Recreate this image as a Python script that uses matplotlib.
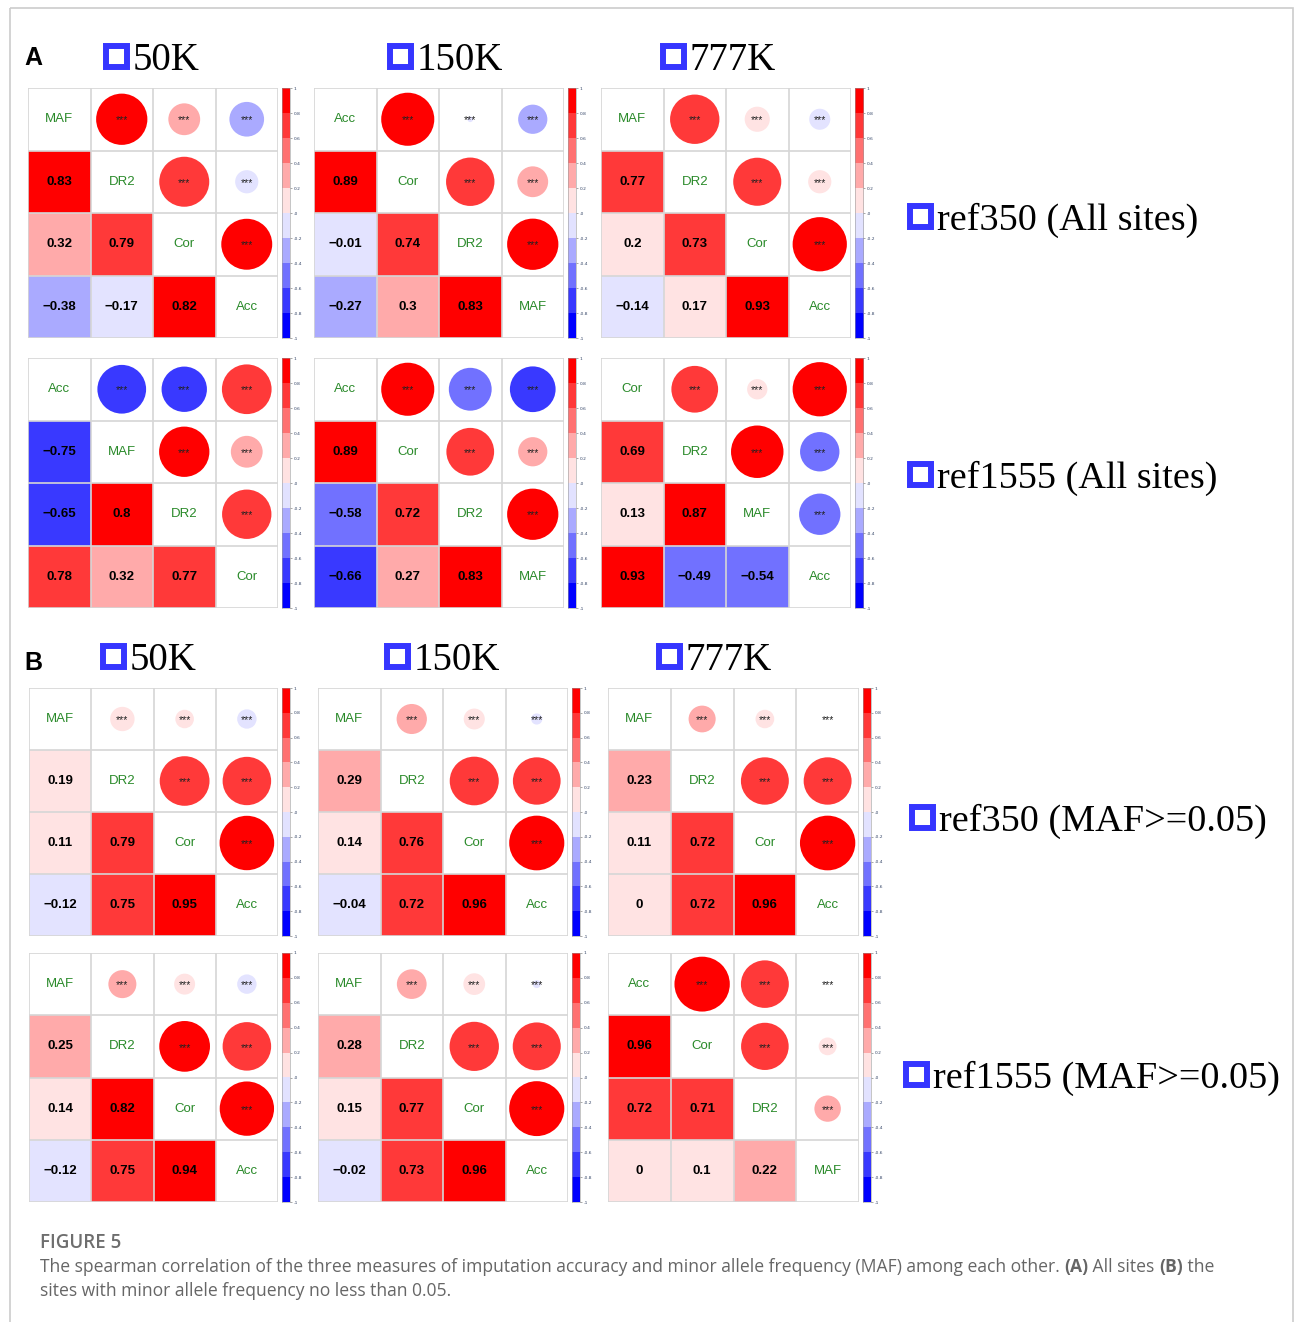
import numpy as np
import matplotlib.pyplot as plt
from matplotlib.patches import Rectangle, Circle

W, H = 1295, 1322

# diagonal labels and lower-triangle correlations, order (1,0),(2,0),(2,1),(3,0),(3,1),(3,2)
panels = ["50K", "150K", "777K"]
rows = ["ref350 (All sites)", "ref1555 (All sites)", "ref350 (MAF>=0.05)", "ref1555 (MAF>=0.05)"]

a_ref350_labels = [["MAF", "DR2", "Cor", "Acc"], ["Acc", "Cor", "DR2", "MAF"], ["MAF", "DR2", "Cor", "Acc"]]
a_ref350_vals = [[0.83, 0.32, 0.79, -0.38, -0.17, 0.82],
                 [0.89, -0.01, 0.74, -0.27, 0.3, 0.83],
                 [0.77, 0.2, 0.73, -0.14, 0.17, 0.93]]

a_ref1555_labels = [["Acc", "MAF", "DR2", "Cor"], ["Acc", "Cor", "DR2", "MAF"], ["Cor", "DR2", "MAF", "Acc"]]
a_ref1555_vals = [[-0.75, -0.65, 0.8, 0.78, 0.32, 0.77],
                  [0.89, -0.58, 0.72, -0.66, 0.27, 0.83],
                  [0.69, 0.13, 0.87, 0.93, -0.49, -0.54]]

b_ref350_labels = [["MAF", "DR2", "Cor", "Acc"], ["MAF", "DR2", "Cor", "Acc"], ["MAF", "DR2", "Cor", "Acc"]]
b_ref350_vals = [[0.19, 0.11, 0.79, -0.12, 0.75, 0.95],
                 [0.29, 0.14, 0.76, -0.04, 0.72, 0.96],
                 [0.23, 0.11, 0.72, 0, 0.72, 0.96]]

b_ref1555_labels = [["MAF", "DR2", "Cor", "Acc"], ["MAF", "DR2", "Cor", "Acc"], ["Acc", "Cor", "DR2", "MAF"]]
b_ref1555_vals = [[0.25, 0.14, 0.82, -0.12, 0.75, 0.94],
                  [0.28, 0.15, 0.77, -0.02, 0.73, 0.96],
                  [0.96, 0.72, 0.71, 0, 0.1, 0.22]]

all_labels = [a_ref350_labels, a_ref1555_labels, b_ref350_labels, b_ref1555_labels]
all_vals = [a_ref350_vals, a_ref1555_vals, b_ref350_vals, b_ref1555_vals]

# layout in pixels (left, right) / (top, bottom)
col_x = [[(28, 278), (314, 564), (601, 851)],
         [(28, 278), (314, 564), (601, 851)],
         [(29, 278), (318, 568), (608, 859)],
         [(29, 278), (318, 568), (608, 859)]]
row_y = [(88, 338), (358, 608), (688, 936), (953, 1202)]

# blue - white - red palette, 10 steps (like colorRampPalette)
t = np.linspace(0, 1, 10)
pal = []
for v in t:
    if v <= 0.5:
        f = v / 0.5
        pal.append((f, f, 1.0))
    else:
        f = (1 - v) / 0.5
        pal.append((1.0, f, f))

BLUE = "#3535ff"
GREEN = "#2a8a2a"


def bin_color(v):
    k = int(np.floor((v + 1) / 0.2))
    return pal[min(max(k, 0), 9)]


def fmt(v):
    s = f"{v:g}"
    return s.replace("-", "\u2212")


def px_axes(fig, x0, x1, y0, y1):
    return fig.add_axes([x0 / W, 1 - y1 / H, (x1 - x0) / W, (y1 - y0) / H])


def draw_corr(ax, labels, lower):
    n = len(labels)
    m = np.eye(n)
    k = 0
    for i in range(1, n):
        for j in range(i):
            m[i, j] = m[j, i] = lower[k]
            k += 1
    for i in range(n):
        for j in range(n):
            v = m[i, j]
            if i == j:
                ax.text(j + 0.5, i + 0.5, labels[i], color=GREEN, fontsize=9.5,
                        family="Liberation Sans", ha="center", va="center")
            elif i > j:
                ax.add_patch(Rectangle((j, i), 1, 1, fc=bin_color(v), ec="none"))
                ax.text(j + 0.5, i + 0.5, fmt(v), fontsize=9.5, fontweight="bold",
                        family="Liberation Sans", ha="center", va="center")
            else:
                if v != 0:
                    ax.add_patch(Circle((j + 0.5, i + 0.5), 0.45 * np.sqrt(abs(v)),
                                        fc=bin_color(v), ec="none"))
                ax.text(j + 0.5, i + 0.52, "***", fontsize=7.5, ha="center", va="center",
                        family="Liberation Sans", color="#222222")
    for g in range(n + 1):
        ax.plot([g, g], [0, n], color="#d6d6d6", lw=1.2, zorder=3)
        ax.plot([0, n], [g, g], color="#d6d6d6", lw=1.2, zorder=3)
    ax.set_xlim(0, n)
    ax.set_ylim(n, 0)
    ax.axis("off")


def draw_cbar(ax):
    img = np.array(pal[::-1]).reshape(10, 1, 3)
    ax.imshow(img, extent=[0, 1, -1, 1], aspect="auto", interpolation="nearest")
    ticks = np.round(np.arange(-1, 1.01, 0.2), 1)
    ax.set_yticks(ticks)
    ax.set_yticklabels([f"{x:g}" for x in ticks])
    ax.yaxis.tick_right()
    ax.tick_params(axis="y", length=1.5, width=0.4, labelsize=3.2, pad=1,
                   labelcolor="#334466", color="#666666")
    ax.set_xticks([])
    for s in ax.spines.values():
        s.set_color("#999999")
        s.set_linewidth(0.4)


fig = plt.figure(figsize=(W / 100, H / 100), dpi=100)

# overlay for frame, titles and caption in pixel coordinates
ov = fig.add_axes([0, 0, 1, 1])
ov.set_xlim(0, W)
ov.set_ylim(H, 0)
ov.axis("off")
ov.add_patch(Rectangle((9.5, 7.5), 1283, 1330, fc="none", ec="#cccccc", lw=1.2))


def blue_box(x, base):
    ov.add_patch(Rectangle((x + 3, base - 24), 21, 21, fc="white", ec=BLUE, lw=4.3))


# panel letters
ov.text(24, 65, "A", fontsize=18, fontweight="bold", family="Liberation Sans", va="baseline")
ov.text(24, 670, "B", fontsize=18, fontweight="bold", family="Liberation Sans", va="baseline")

# column titles
title_pos = [[(103, 70), (387, 70), (660, 70)], [(100, 670), (384, 670), (656, 670)]]
for grp in title_pos:
    for name, (x, base) in zip(panels, grp):
        blue_box(x, base)
        ov.text(x + 30, base, name, fontsize=28, family="Liberation Serif", va="baseline")

# row labels
row_lab_pos = [(907, 230), (907, 488), (909, 831), (903, 1088)]
for name, (x, base) in zip(rows, row_lab_pos):
    blue_box(x, base)
    ov.text(x + 30, base, name, fontsize=27.5, family="Liberation Serif", va="baseline")

# matrices
for r in range(4):
    y0, y1 = row_y[r]
    for c in range(3):
        x0, x1 = col_x[r][c]
        ax = px_axes(fig, x0, x1, y0, y1)
        draw_corr(ax, all_labels[r][c], all_vals[r][c])
        cax = px_axes(fig, x1 + 4, x1 + 12, y0, y1)
        draw_cbar(cax)

# caption
cap_font = "Open Sans"
ov.text(40, 1248, "FIGURE 5", fontsize=13.5, color="#6e6e6e", family=cap_font,
        fontweight="semibold", va="baseline")
pieces = [("The spearman correlation of the three measures of imputation accuracy and minor allele "
           "frequency (MAF) among each other. ", "normal"),
          ("(A)", "bold"), (" All sites ", "normal"), ("(B)", "bold"), (" the", "normal")]
fig.canvas.draw()
rend = fig.canvas.get_renderer()
x = 40
for txt, wt in pieces:
    tt = ov.text(x, 1272, txt, fontsize=12.65, color="#666666", family=cap_font,
                 fontweight=wt, va="baseline")
    bb = tt.get_window_extent(renderer=rend)
    x += bb.width
ov.text(40, 1296, "sites with minor allele frequency no less than 0.05.", fontsize=12.65,
        color="#666666", family=cap_font, va="baseline")

fig.savefig("out.png", dpi=100)
